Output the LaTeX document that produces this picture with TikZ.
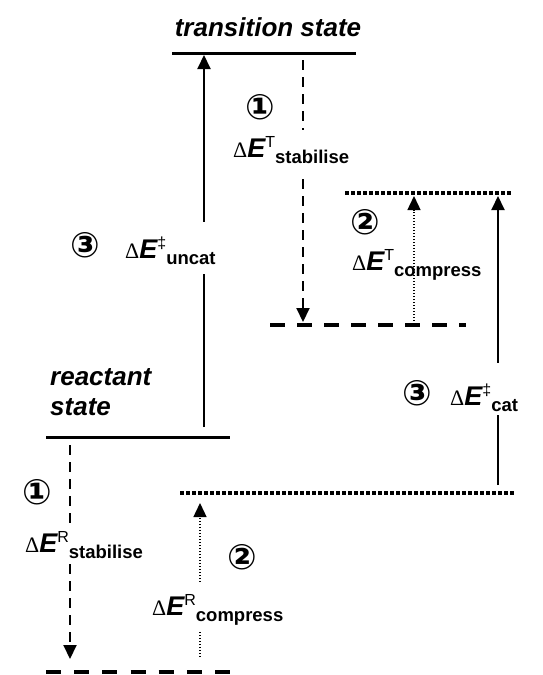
\documentclass[tikz,border=0pt]{standalone}
\usepackage{fontspec}
\setmainfont{Liberation Sans}
\newfontfamily\dfont{Liberation Serif}
\newfontfamily\cfont{DejaVu Sans Bold}
\usetikzlibrary{arrows.meta}
\newcommand{\dlab}[2]{{\dfont\fontsize{22}{22}\selectfont Δ}{\fontsize{27}{27}\selectfont\bfseries\itshape E}\raisebox{10pt}{\fontsize{16}{16}\selectfont #1}\raisebox{-6pt}{\fontsize{18.5}{18.5}\selectfont\bfseries #2}}
\tikzset{
  level/.style={line width=3pt},
  lvldash/.style={line width=3.5pt, dash pattern=on 15pt off 13.17pt},
  lvldashb/.style={line width=3.5pt, dash pattern=on 15pt off 12pt},
  lvldot/.style={line width=3.5pt, dash pattern=on 3.5pt off 2.5pt},
  tip/.style={-{Triangle[length=14pt,width=13pt]}},
  arr/.style={line width=2pt, tip},
  arrdash/.style={line width=2pt, dash pattern=on 10pt off 7pt, tip},
  arrdot/.style={line width=1.4pt, dash pattern=on 1.4pt off 1.6pt, tip},
  lab/.style={anchor=base west, inner sep=0pt, fill=white},
  labnf/.style={anchor=base west, inner sep=0pt},
  circ/.style={inner sep=0pt, font=\cfont\fontsize{35}{35}\selectfont},
  ttl/.style={inner sep=0pt, font=\fontsize{26}{30}\selectfont\bfseries\itshape}
}
\begin{document}
\begin{tikzpicture}[x=1pt,y=-1pt]
\useasboundingbox (0,0) rectangle (542,675);
% levels
\coordinate (tsL) at (172,53);  \coordinate (tsR) at (356,53);
\coordinate (tcL) at (345,193); \coordinate (tcR) at (512,193);
\coordinate (tdL) at (270,325); \coordinate (tdR) at (466,325);
\coordinate (rsL) at (46,437);  \coordinate (rsR) at (230,437);
\coordinate (rcL) at (180,493); \coordinate (rcR) at (514,493);
\coordinate (rdL) at (46,672);  \coordinate (rdR) at (230,672);
\draw[level] (tsL) -- (tsR);
\draw[lvldot] (tcL) -- (tcR);
\draw[lvldashb] (tdL) -- (tdR);
\draw[level] (rsL) -- (rsR);
\draw[lvldot] (rcL) -- (rcR);
\draw[lvldash] (rdL) -- (rdR);
% arrows
\coordinate (u0) at (204,427); \coordinate (u1) at (204,55);
\coordinate (ts0) at (303,60); \coordinate (ts1) at (303,322);
\coordinate (tc0) at (414,321); \coordinate (tc1) at (414,196);
\coordinate (c0) at (498,485); \coordinate (c1) at (498,196);
\coordinate (rs0) at (70,445); \coordinate (rs1) at (70,659);
\coordinate (rc0) at (200,657); \coordinate (rc1) at (200,503);
\draw[arr] (u0) -- (u1);
\draw[arrdash] (ts0) -- (ts1);
\draw[arrdot] (tc0) -- (tc1);
\draw[arr] (c0) -- (c1);
\draw[arrdash] (rs0) -- (rs1);
\draw[arrdot] (rc0) -- (rc1);
% titles
\node[ttl, anchor=base] (tstext) at (268,36) {transition state};
\node[ttl, anchor=base west] (rstext1) at (50,385) {reactant};
\node[ttl, anchor=base west] (rstext2) at (50,415) {state};
% labels
\node[lab, text height=36pt, text depth=16pt] (luncat) at (125,258) {\dlab{‡}{uncat}};
\node[lab, text height=27pt, text depth=20pt] (ltstab) at (233,157) {\dlab{T}{stabilise}};
\node[labnf] (ltcomp) at (352,270) {\dlab{T}{compress}};
\node[lab, text height=42pt, text depth=10pt] (lcat) at (450,405) {\dlab{‡}{cat}};
\node[lab, text height=22pt, text depth=11pt] (lrstab) at (25,552) {\dlab{R}{stabilise}};
\node[lab, text height=33pt, text depth=17pt] (lrcomp) at (152,615) {\dlab{R}{compress}};
% circled numbers
\node[circ] (n3a) at (85,245) {③};
\node[circ] (n1a) at (260,107) {①};
\node[circ] (n2a) at (365,222) {②};
\node[circ] (n3b) at (417,393) {③};
\node[circ] (n1b) at (37,492) {①};
\node[circ] (n2b) at (242,557) {②};
\end{tikzpicture}
\end{document}
